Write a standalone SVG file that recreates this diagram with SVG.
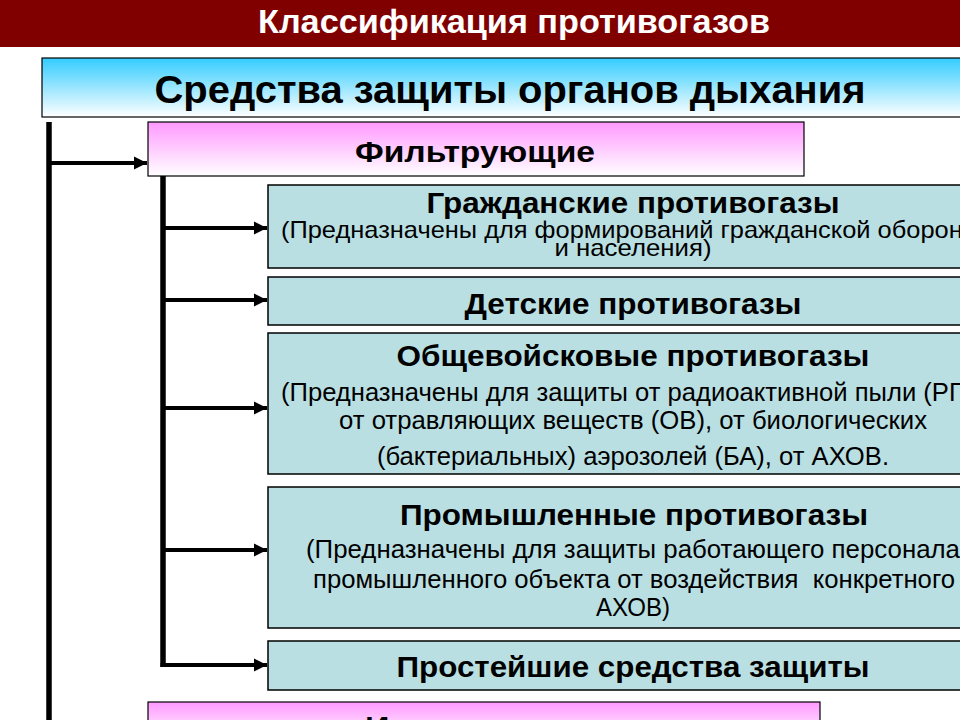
<svg xmlns="http://www.w3.org/2000/svg" width="960" height="720" viewBox="0 0 960 720">
<defs>
<linearGradient id="gBlue" x1="0" y1="0" x2="0" y2="1">
<stop offset="0" stop-color="#33ccff"/>
<stop offset="1" stop-color="#ffffff"/>
</linearGradient>
<linearGradient id="gPink" x1="0" y1="0" x2="0" y2="1">
<stop offset="0" stop-color="#ff99ff"/>
<stop offset="1" stop-color="#ffffff"/>
</linearGradient>
<marker id="arr" viewBox="0 0 10 10" refX="10" refY="5" markerWidth="3.4" markerHeight="3.3" orient="auto" markerUnits="strokeWidth">
<path d="M0,0 L10,5 L0,10 Z" fill="#000"/>
</marker>
</defs>
<style>
.t{font-family:"Liberation Sans",Arial,sans-serif;fill:#000;text-anchor:middle}
.b{font-weight:bold}
.box{fill:#b9dfe2;stroke:#000;stroke-width:1.5}
.c{fill:none;stroke:#000;stroke-width:4}
.v{fill:none;stroke:#000;stroke-width:5.5}
</style>
<rect width="960" height="720" fill="#fff"/>
<g id="title">
<rect x="0" y="0" width="960" height="47" fill="#800000"/>
<text class="t b" x="514" y="33" font-size="34" style="fill:#fff" textLength="512" lengthAdjust="spacingAndGlyphs">Классификация противогазов</text>
</g>
<g id="main">
<rect x="42" y="58" width="940" height="59" fill="url(#gBlue)" stroke="#000" stroke-width="1.2"/>
<text class="t b" x="510" y="103" font-size="39" textLength="711" lengthAdjust="spacingAndGlyphs">Средства защиты органов дыхания</text>
</g>
<g id="connectors">
<line class="v" x1="49" y1="122" x2="49" y2="720"/>
<line class="c" x1="49" y1="163" x2="147" y2="163" marker-end="url(#arr)"/>
<line class="v" x1="163" y1="171" x2="163" y2="667"/>
<line class="c" x1="163" y1="228" x2="267" y2="228" marker-end="url(#arr)"/>
<line class="c" x1="163" y1="300" x2="267" y2="300" marker-end="url(#arr)"/>
<line class="c" x1="163" y1="408" x2="267" y2="408" marker-end="url(#arr)"/>
<line class="c" x1="163" y1="550" x2="267" y2="550" marker-end="url(#arr)"/>
<line class="c" x1="160.5" y1="665" x2="267" y2="665" marker-end="url(#arr)"/>
</g>
<g id="filter">
<rect x="148" y="122" width="656" height="54" fill="url(#gPink)" stroke="#000" stroke-width="1.2"/>
<text class="t b" x="475" y="162" font-size="30" textLength="240" lengthAdjust="spacingAndGlyphs">Фильтрующие</text>
</g>
<g id="civil">
<rect class="box" x="268" y="185" width="720" height="83"/>
<text class="t b" x="633" y="213" font-size="29" textLength="413" lengthAdjust="spacingAndGlyphs">Гражданские противогазы</text>
<text class="t" x="281" y="238" font-size="24" style="text-anchor:start" textLength="700" lengthAdjust="spacingAndGlyphs">(Предназначены для формирований гражданской обороны</text>
<text class="t" x="633" y="256" font-size="24" textLength="157" lengthAdjust="spacingAndGlyphs">и населения)</text>
</g>
<g id="child">
<rect class="box" x="268" y="277" width="720" height="48"/>
<text class="t b" x="633" y="314" font-size="30" textLength="337" lengthAdjust="spacingAndGlyphs">Детские противогазы</text>
</g>
<g id="army">
<rect class="box" x="268" y="333" width="720" height="141"/>
<text class="t b" x="633" y="366" font-size="29" textLength="473" lengthAdjust="spacingAndGlyphs">Общевойсковые противогазы</text>
<text class="t" x="281" y="401" font-size="25" style="text-anchor:start" textLength="702" lengthAdjust="spacingAndGlyphs">(Предназначены для защиты от радиоактивной пыли (РП),</text>
<text class="t" x="633" y="429" font-size="25" textLength="588" lengthAdjust="spacingAndGlyphs">от отравляющих веществ (ОВ), от биологических</text>
<text class="t" x="633" y="465" font-size="25" textLength="512" lengthAdjust="spacingAndGlyphs">(бактериальных) аэрозолей (БА), от АХОВ.</text>
</g>
<g id="industrial">
<rect class="box" x="268" y="487" width="720" height="141"/>
<text class="t b" x="634" y="525" font-size="29" textLength="468" lengthAdjust="spacingAndGlyphs">Промышленные противогазы</text>
<text class="t" x="633" y="558" font-size="25" textLength="654" lengthAdjust="spacingAndGlyphs">(Предназначены для защиты работающего персонала</text>
<text class="t" x="634" y="588" font-size="25" style="white-space:pre" textLength="642" lengthAdjust="spacingAndGlyphs">промышленного объекта от воздействия  конкретного</text>
<text class="t" x="633" y="616" font-size="25" textLength="74" lengthAdjust="spacingAndGlyphs">АХОВ)</text>
</g>
<g id="simple">
<rect class="box" x="268" y="641" width="720" height="49"/>
<text class="t b" x="633" y="677" font-size="29" textLength="473" lengthAdjust="spacingAndGlyphs">Простейшие средства защиты</text>
</g>
<g id="isolating">
<rect x="148" y="702" width="672" height="40" fill="url(#gPink)" stroke="#000" stroke-width="1.2"/>
<text class="t b" x="485" y="737" font-size="29" textLength="240" lengthAdjust="spacingAndGlyphs">Изолирующие</text>
</g>
</svg>
